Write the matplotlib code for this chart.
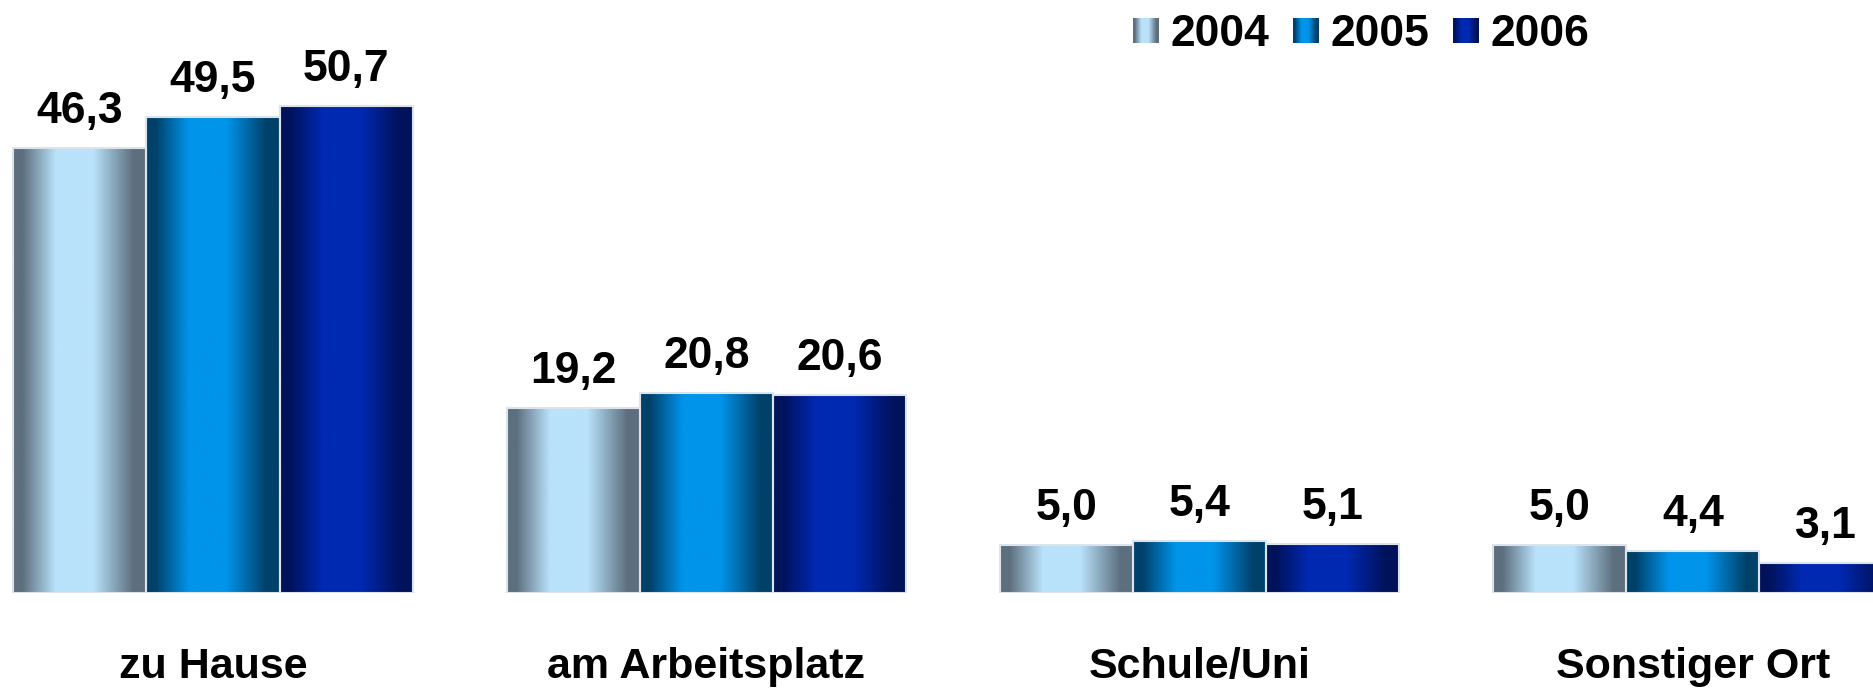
import numpy as np
import matplotlib
matplotlib.use("Agg")
import matplotlib.pyplot as plt
from matplotlib.colors import LinearSegmentedColormap

categories = ["zu Hause", "am Arbeitsplatz", "Schule/Uni", "Sonstiger Ort"]
years = ["2004", "2005", "2006"]
v2004 = [46.3, 19.2, 5.0, 5.0]
v2005 = [49.5, 20.8, 5.4, 4.4]
v2006 = [50.7, 20.6, 5.1, 3.1]

# dark edge / bright middle of the "cylinder" gradient per year
edge_cols = ["#5d6f7e", "#00416a", "#00125a"]
mid_cols = ["#b9e2fb", "#0094ea", "#0029b2"]


def grad_cmap(edge, mid):
    stops = [(0, edge), (0.07, edge), (0.32, mid), (0.6, mid), (0.9, edge), (1, edge)]
    return LinearSegmentedColormap.from_list("g", stops)


plt.rcParams["font.family"] = ["Liberation Sans", "DejaVu Sans"]
plt.rcParams["font.weight"] = "bold"

W, H = 1874, 688
fig = plt.figure(figsize=(W / 100, H / 100), dpi=100)
ax = fig.add_axes([0, 95 / H, 1, 593 / H])

x = np.arange(len(categories))
w = 0.27
grad = np.linspace(0, 1, 256).reshape(1, -1)

for i, vals in enumerate([v2004, v2005, v2006]):
    cmap = grad_cmap(edge_cols[i], mid_cols[i])
    bars = ax.bar(x + (i - 1) * w, vals, w, color="none",
                  edgecolor="#dde3ea", linewidth=1.5, zorder=3)
    for b, v in zip(bars, vals):
        x0, wd = b.get_x(), b.get_width()
        im = ax.imshow(grad, extent=[x0, x0 + wd, 0, v], aspect="auto",
                       cmap=cmap, zorder=2, interpolation="bilinear")
        im.set_clip_path(b)
        ax.annotate(f"{v:.1f}".replace(".", ","), (x0 + wd / 2, v),
                    xytext=(0, 18), textcoords="offset points",
                    ha="center", va="baseline", fontsize=32, fontweight="bold")

ax.set_xlim(-213 / 493.3, (W - 213) / 493.3)
ax.set_ylim(0, 593 / 9.61)
ax.set_xticks(x, categories, fontsize=31, fontweight="bold")
ax.tick_params(axis="x", length=0, pad=39)
ax.set_yticks([])
for s in ax.spines.values():
    s.set_visible(False)

# legend: gradient squares + year text
sq_x = [1133, 1293, 1453]
for i, yr in enumerate(years):
    lax = fig.add_axes([sq_x[i] / W, (H - 43) / H, 26 / W, 25 / H])
    lax.imshow(grad, aspect="auto", cmap=grad_cmap(edge_cols[i], mid_cols[i]),
               interpolation="bilinear")
    lax.axis("off")
    fig.text((sq_x[i] + 38) / W, (H - 46) / H, yr, fontsize=32,
             fontweight="bold", va="baseline", ha="left")

fig.savefig("out.png", dpi=100)
